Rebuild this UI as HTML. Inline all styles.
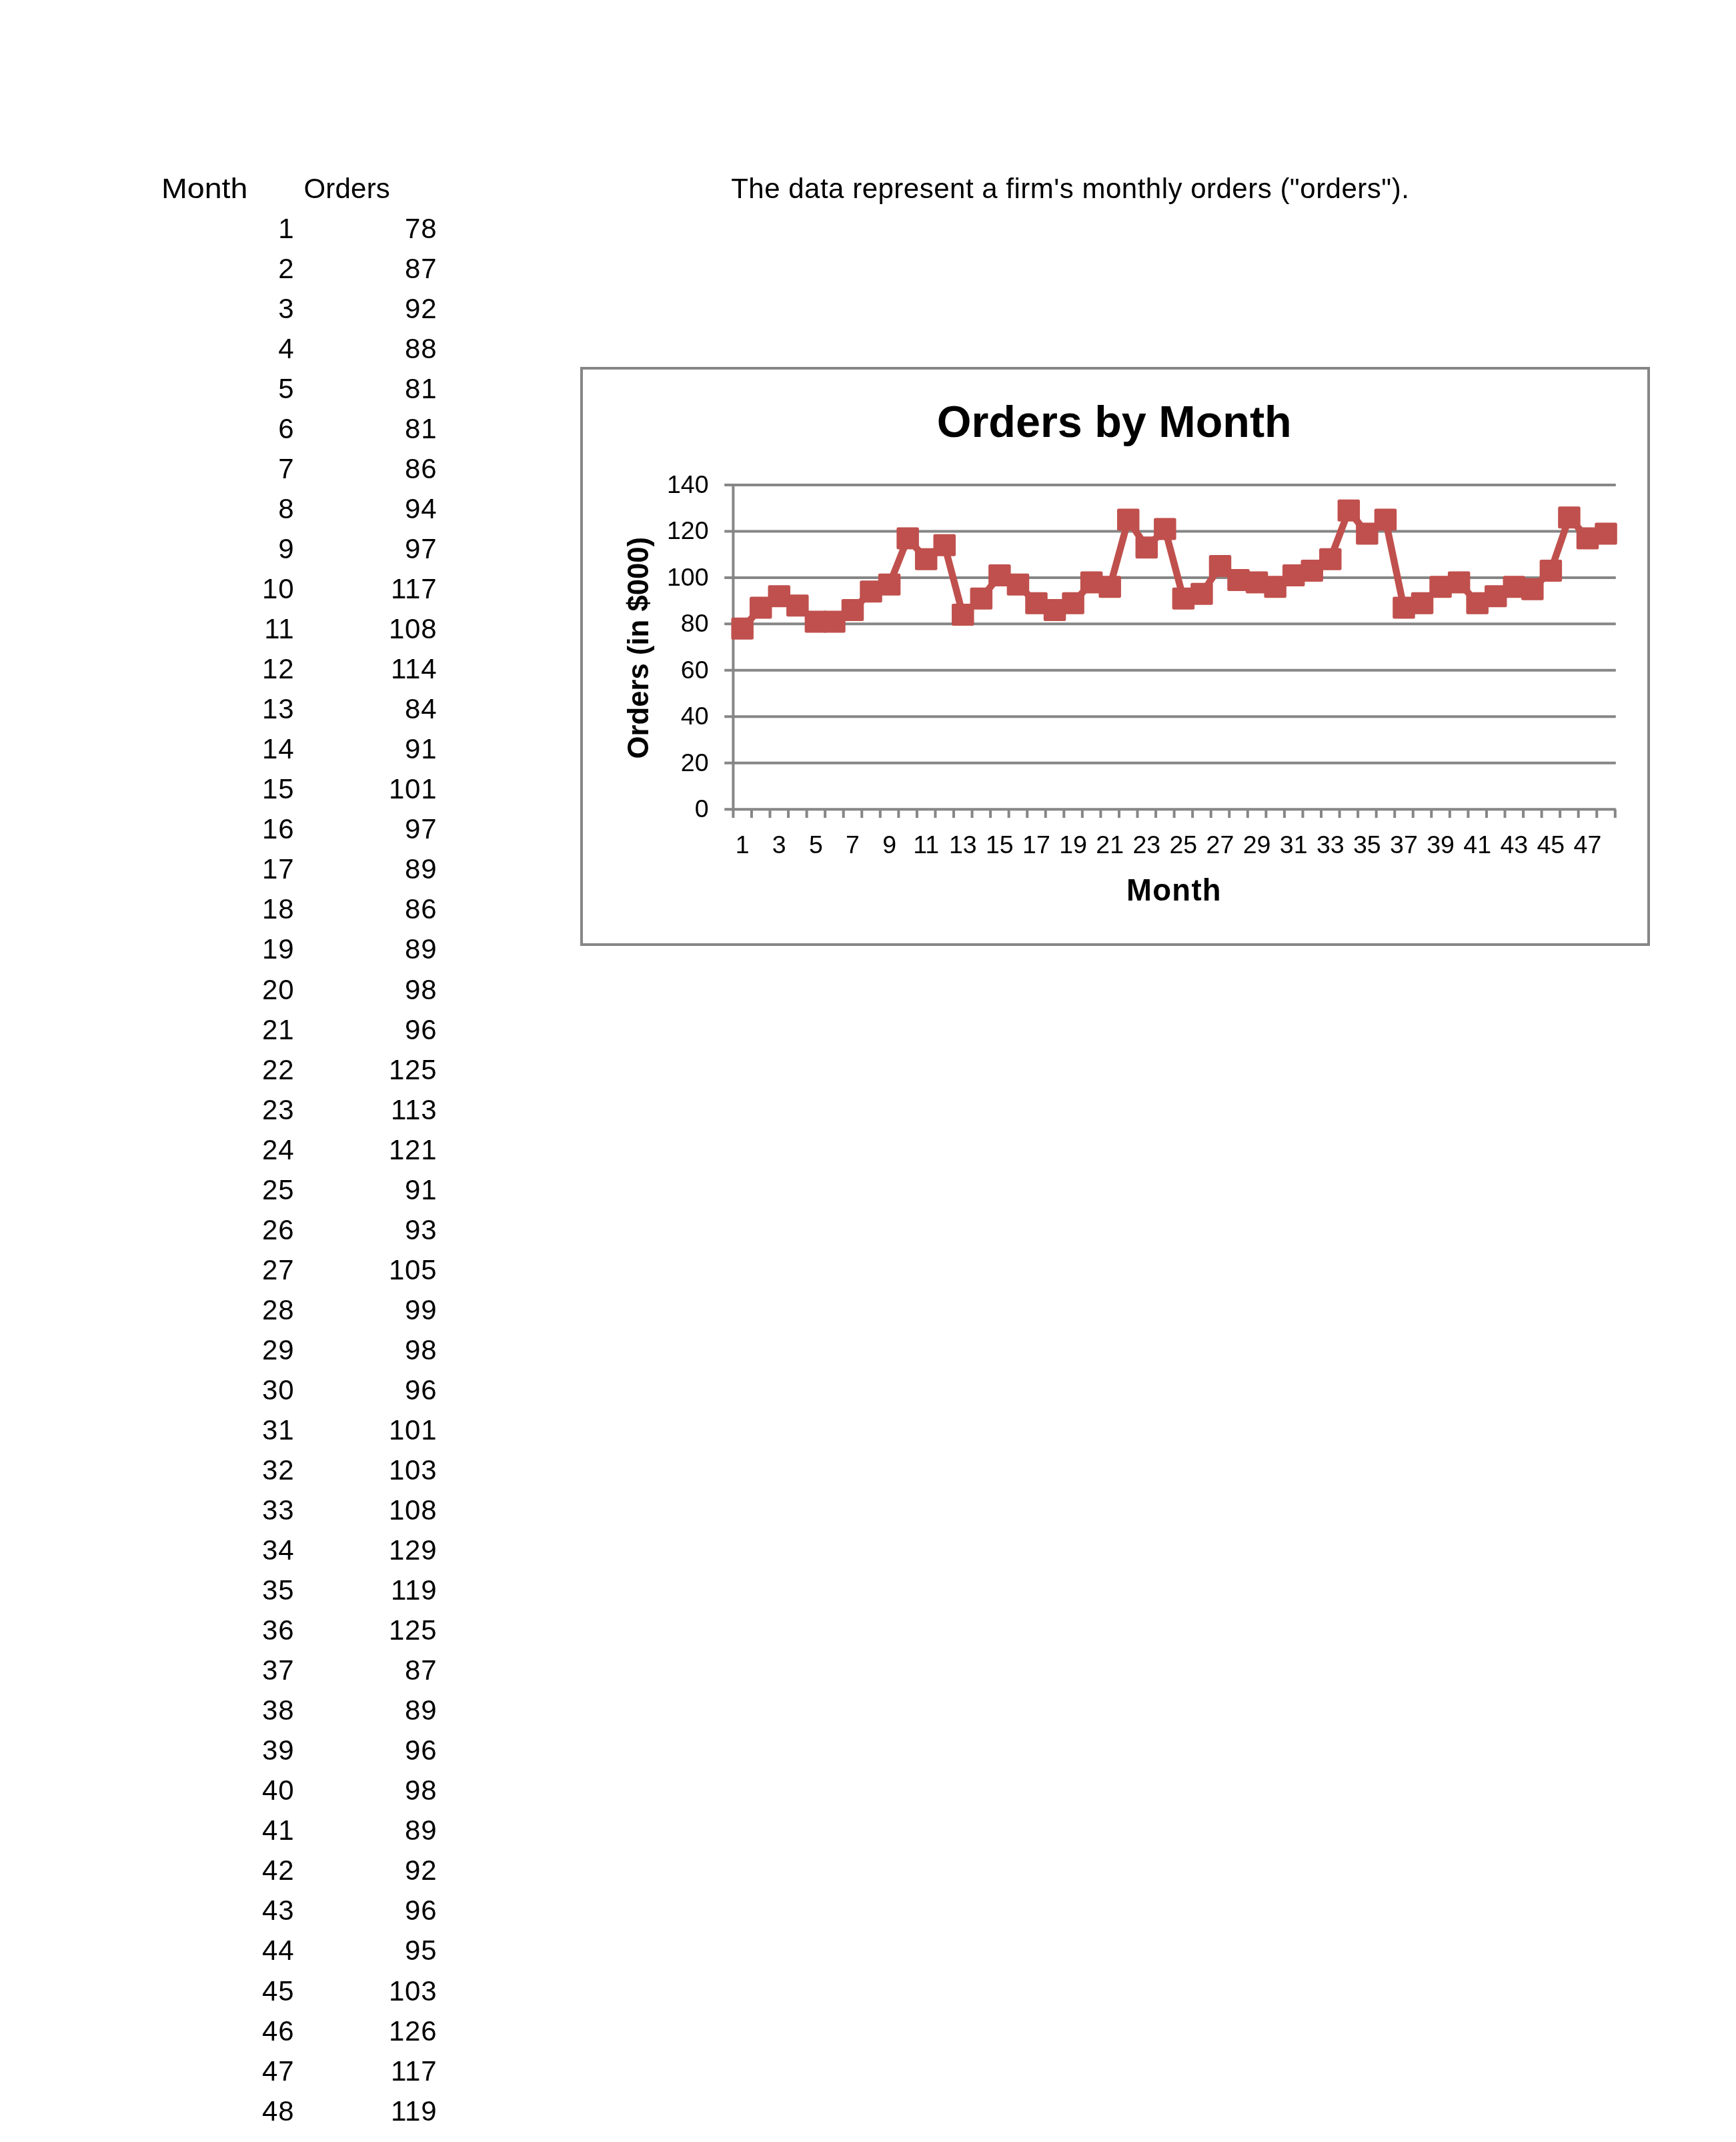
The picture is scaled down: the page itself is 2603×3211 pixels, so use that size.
<!DOCTYPE html>
<html lang="en">
<head>
<meta charset="utf-8">
<title>Orders by Month</title>
<style>

html,body{margin:0;padding:0;background:#fff;}
body{width:2603px;height:3211px;position:relative;overflow:hidden;font-family:"Liberation Sans",sans-serif;color:#000;}
.sheet{position:absolute;left:0;top:0;width:2603px;height:3211px;will-change:transform;}
.cell{position:absolute;white-space:nowrap;font-size:42px;line-height:60px;height:60px;}
.num{text-align:right;}
.desc{position:absolute;white-space:nowrap;font-size:42px;line-height:60px;}
svg{position:absolute;left:0;top:0;}
svg text{font-family:"Liberation Sans",sans-serif;fill:#000;}

</style>
</head>
<body>
<div class="sheet">
<div class="cell hd" style="left:241.60px;top:252.70px;width:198.90px;transform:scaleX(1.108);transform-origin:0 0;">Month</div>
<div class="cell hd" style="left:455.50px;top:252.70px;width:199.90px;letter-spacing:0.2px;">Orders</div>
<div class="desc" style="left:1096.20px;top:252.70px;letter-spacing:0.5px;">The data represent a firm's monthly orders ("orders").</div>
<div class="cell num" style="left:242.50px;top:312.74px;width:198.90px;letter-spacing:0.8px;">1</div><div class="cell num" style="left:455.50px;top:312.74px;width:199.90px;letter-spacing:0.8px;">78</div>
<div class="cell num" style="left:242.50px;top:372.78px;width:198.90px;letter-spacing:0.8px;">2</div><div class="cell num" style="left:455.50px;top:372.78px;width:199.90px;letter-spacing:0.8px;">87</div>
<div class="cell num" style="left:242.50px;top:432.82px;width:198.90px;letter-spacing:0.8px;">3</div><div class="cell num" style="left:455.50px;top:432.82px;width:199.90px;letter-spacing:0.8px;">92</div>
<div class="cell num" style="left:242.50px;top:492.86px;width:198.90px;letter-spacing:0.8px;">4</div><div class="cell num" style="left:455.50px;top:492.86px;width:199.90px;letter-spacing:0.8px;">88</div>
<div class="cell num" style="left:242.50px;top:552.90px;width:198.90px;letter-spacing:0.8px;">5</div><div class="cell num" style="left:455.50px;top:552.90px;width:199.90px;letter-spacing:0.8px;">81</div>
<div class="cell num" style="left:242.50px;top:612.94px;width:198.90px;letter-spacing:0.8px;">6</div><div class="cell num" style="left:455.50px;top:612.94px;width:199.90px;letter-spacing:0.8px;">81</div>
<div class="cell num" style="left:242.50px;top:672.98px;width:198.90px;letter-spacing:0.8px;">7</div><div class="cell num" style="left:455.50px;top:672.98px;width:199.90px;letter-spacing:0.8px;">86</div>
<div class="cell num" style="left:242.50px;top:733.02px;width:198.90px;letter-spacing:0.8px;">8</div><div class="cell num" style="left:455.50px;top:733.02px;width:199.90px;letter-spacing:0.8px;">94</div>
<div class="cell num" style="left:242.50px;top:793.06px;width:198.90px;letter-spacing:0.8px;">9</div><div class="cell num" style="left:455.50px;top:793.06px;width:199.90px;letter-spacing:0.8px;">97</div>
<div class="cell num" style="left:242.50px;top:853.10px;width:198.90px;letter-spacing:0.8px;">10</div><div class="cell num" style="left:455.50px;top:853.10px;width:199.90px;letter-spacing:0.8px;">117</div>
<div class="cell num" style="left:242.50px;top:913.14px;width:198.90px;letter-spacing:0.8px;">11</div><div class="cell num" style="left:455.50px;top:913.14px;width:199.90px;letter-spacing:0.8px;">108</div>
<div class="cell num" style="left:242.50px;top:973.18px;width:198.90px;letter-spacing:0.8px;">12</div><div class="cell num" style="left:455.50px;top:973.18px;width:199.90px;letter-spacing:0.8px;">114</div>
<div class="cell num" style="left:242.50px;top:1033.22px;width:198.90px;letter-spacing:0.8px;">13</div><div class="cell num" style="left:455.50px;top:1033.22px;width:199.90px;letter-spacing:0.8px;">84</div>
<div class="cell num" style="left:242.50px;top:1093.26px;width:198.90px;letter-spacing:0.8px;">14</div><div class="cell num" style="left:455.50px;top:1093.26px;width:199.90px;letter-spacing:0.8px;">91</div>
<div class="cell num" style="left:242.50px;top:1153.30px;width:198.90px;letter-spacing:0.8px;">15</div><div class="cell num" style="left:455.50px;top:1153.30px;width:199.90px;letter-spacing:0.8px;">101</div>
<div class="cell num" style="left:242.50px;top:1213.34px;width:198.90px;letter-spacing:0.8px;">16</div><div class="cell num" style="left:455.50px;top:1213.34px;width:199.90px;letter-spacing:0.8px;">97</div>
<div class="cell num" style="left:242.50px;top:1273.38px;width:198.90px;letter-spacing:0.8px;">17</div><div class="cell num" style="left:455.50px;top:1273.38px;width:199.90px;letter-spacing:0.8px;">89</div>
<div class="cell num" style="left:242.50px;top:1333.42px;width:198.90px;letter-spacing:0.8px;">18</div><div class="cell num" style="left:455.50px;top:1333.42px;width:199.90px;letter-spacing:0.8px;">86</div>
<div class="cell num" style="left:242.50px;top:1393.46px;width:198.90px;letter-spacing:0.8px;">19</div><div class="cell num" style="left:455.50px;top:1393.46px;width:199.90px;letter-spacing:0.8px;">89</div>
<div class="cell num" style="left:242.50px;top:1453.50px;width:198.90px;letter-spacing:0.8px;">20</div><div class="cell num" style="left:455.50px;top:1453.50px;width:199.90px;letter-spacing:0.8px;">98</div>
<div class="cell num" style="left:242.50px;top:1513.54px;width:198.90px;letter-spacing:0.8px;">21</div><div class="cell num" style="left:455.50px;top:1513.54px;width:199.90px;letter-spacing:0.8px;">96</div>
<div class="cell num" style="left:242.50px;top:1573.58px;width:198.90px;letter-spacing:0.8px;">22</div><div class="cell num" style="left:455.50px;top:1573.58px;width:199.90px;letter-spacing:0.8px;">125</div>
<div class="cell num" style="left:242.50px;top:1633.62px;width:198.90px;letter-spacing:0.8px;">23</div><div class="cell num" style="left:455.50px;top:1633.62px;width:199.90px;letter-spacing:0.8px;">113</div>
<div class="cell num" style="left:242.50px;top:1693.66px;width:198.90px;letter-spacing:0.8px;">24</div><div class="cell num" style="left:455.50px;top:1693.66px;width:199.90px;letter-spacing:0.8px;">121</div>
<div class="cell num" style="left:242.50px;top:1753.70px;width:198.90px;letter-spacing:0.8px;">25</div><div class="cell num" style="left:455.50px;top:1753.70px;width:199.90px;letter-spacing:0.8px;">91</div>
<div class="cell num" style="left:242.50px;top:1813.74px;width:198.90px;letter-spacing:0.8px;">26</div><div class="cell num" style="left:455.50px;top:1813.74px;width:199.90px;letter-spacing:0.8px;">93</div>
<div class="cell num" style="left:242.50px;top:1873.78px;width:198.90px;letter-spacing:0.8px;">27</div><div class="cell num" style="left:455.50px;top:1873.78px;width:199.90px;letter-spacing:0.8px;">105</div>
<div class="cell num" style="left:242.50px;top:1933.82px;width:198.90px;letter-spacing:0.8px;">28</div><div class="cell num" style="left:455.50px;top:1933.82px;width:199.90px;letter-spacing:0.8px;">99</div>
<div class="cell num" style="left:242.50px;top:1993.86px;width:198.90px;letter-spacing:0.8px;">29</div><div class="cell num" style="left:455.50px;top:1993.86px;width:199.90px;letter-spacing:0.8px;">98</div>
<div class="cell num" style="left:242.50px;top:2053.90px;width:198.90px;letter-spacing:0.8px;">30</div><div class="cell num" style="left:455.50px;top:2053.90px;width:199.90px;letter-spacing:0.8px;">96</div>
<div class="cell num" style="left:242.50px;top:2113.94px;width:198.90px;letter-spacing:0.8px;">31</div><div class="cell num" style="left:455.50px;top:2113.94px;width:199.90px;letter-spacing:0.8px;">101</div>
<div class="cell num" style="left:242.50px;top:2173.98px;width:198.90px;letter-spacing:0.8px;">32</div><div class="cell num" style="left:455.50px;top:2173.98px;width:199.90px;letter-spacing:0.8px;">103</div>
<div class="cell num" style="left:242.50px;top:2234.02px;width:198.90px;letter-spacing:0.8px;">33</div><div class="cell num" style="left:455.50px;top:2234.02px;width:199.90px;letter-spacing:0.8px;">108</div>
<div class="cell num" style="left:242.50px;top:2294.06px;width:198.90px;letter-spacing:0.8px;">34</div><div class="cell num" style="left:455.50px;top:2294.06px;width:199.90px;letter-spacing:0.8px;">129</div>
<div class="cell num" style="left:242.50px;top:2354.10px;width:198.90px;letter-spacing:0.8px;">35</div><div class="cell num" style="left:455.50px;top:2354.10px;width:199.90px;letter-spacing:0.8px;">119</div>
<div class="cell num" style="left:242.50px;top:2414.14px;width:198.90px;letter-spacing:0.8px;">36</div><div class="cell num" style="left:455.50px;top:2414.14px;width:199.90px;letter-spacing:0.8px;">125</div>
<div class="cell num" style="left:242.50px;top:2474.18px;width:198.90px;letter-spacing:0.8px;">37</div><div class="cell num" style="left:455.50px;top:2474.18px;width:199.90px;letter-spacing:0.8px;">87</div>
<div class="cell num" style="left:242.50px;top:2534.22px;width:198.90px;letter-spacing:0.8px;">38</div><div class="cell num" style="left:455.50px;top:2534.22px;width:199.90px;letter-spacing:0.8px;">89</div>
<div class="cell num" style="left:242.50px;top:2594.26px;width:198.90px;letter-spacing:0.8px;">39</div><div class="cell num" style="left:455.50px;top:2594.26px;width:199.90px;letter-spacing:0.8px;">96</div>
<div class="cell num" style="left:242.50px;top:2654.30px;width:198.90px;letter-spacing:0.8px;">40</div><div class="cell num" style="left:455.50px;top:2654.30px;width:199.90px;letter-spacing:0.8px;">98</div>
<div class="cell num" style="left:242.50px;top:2714.34px;width:198.90px;letter-spacing:0.8px;">41</div><div class="cell num" style="left:455.50px;top:2714.34px;width:199.90px;letter-spacing:0.8px;">89</div>
<div class="cell num" style="left:242.50px;top:2774.38px;width:198.90px;letter-spacing:0.8px;">42</div><div class="cell num" style="left:455.50px;top:2774.38px;width:199.90px;letter-spacing:0.8px;">92</div>
<div class="cell num" style="left:242.50px;top:2834.42px;width:198.90px;letter-spacing:0.8px;">43</div><div class="cell num" style="left:455.50px;top:2834.42px;width:199.90px;letter-spacing:0.8px;">96</div>
<div class="cell num" style="left:242.50px;top:2894.46px;width:198.90px;letter-spacing:0.8px;">44</div><div class="cell num" style="left:455.50px;top:2894.46px;width:199.90px;letter-spacing:0.8px;">95</div>
<div class="cell num" style="left:242.50px;top:2954.50px;width:198.90px;letter-spacing:0.8px;">45</div><div class="cell num" style="left:455.50px;top:2954.50px;width:199.90px;letter-spacing:0.8px;">103</div>
<div class="cell num" style="left:242.50px;top:3014.54px;width:198.90px;letter-spacing:0.8px;">46</div><div class="cell num" style="left:455.50px;top:3014.54px;width:199.90px;letter-spacing:0.8px;">126</div>
<div class="cell num" style="left:242.50px;top:3074.58px;width:198.90px;letter-spacing:0.8px;">47</div><div class="cell num" style="left:455.50px;top:3074.58px;width:199.90px;letter-spacing:0.8px;">117</div>
<div class="cell num" style="left:242.50px;top:3134.62px;width:198.90px;letter-spacing:0.8px;">48</div><div class="cell num" style="left:455.50px;top:3134.62px;width:199.90px;letter-spacing:0.8px;">119</div>
<svg width="2603" height="3211" viewBox="0 0 2603 3211">
<rect x="872" y="552" width="1600" height="864" fill="#fff" stroke="#868686" stroke-width="4"/>
<line x1="1086.2" y1="1213.20" x2="2422.80" y2="1213.20" stroke="#868686" stroke-width="4.0"/>
<line x1="1086.2" y1="1143.74" x2="2422.80" y2="1143.74" stroke="#868686" stroke-width="4.0"/>
<line x1="1086.2" y1="1074.28" x2="2422.80" y2="1074.28" stroke="#868686" stroke-width="4.0"/>
<line x1="1086.2" y1="1004.82" x2="2422.80" y2="1004.82" stroke="#868686" stroke-width="4.0"/>
<line x1="1086.2" y1="935.36" x2="2422.80" y2="935.36" stroke="#868686" stroke-width="4.0"/>
<line x1="1086.2" y1="865.90" x2="2422.80" y2="865.90" stroke="#868686" stroke-width="4.0"/>
<line x1="1086.2" y1="796.44" x2="2422.80" y2="796.44" stroke="#868686" stroke-width="4.0"/>
<line x1="1086.2" y1="726.98" x2="2422.80" y2="726.98" stroke="#868686" stroke-width="4.0"/>
<line x1="1099.40" y1="724.98" x2="1099.40" y2="1225.90" stroke="#868686" stroke-width="4.0"/>
<path d="M1126.95 1213.20V1225.90M1154.50 1213.20V1225.90M1182.05 1213.20V1225.90M1209.60 1213.20V1225.90M1237.15 1213.20V1225.90M1264.70 1213.20V1225.90M1292.25 1213.20V1225.90M1319.80 1213.20V1225.90M1347.35 1213.20V1225.90M1374.90 1213.20V1225.90M1402.45 1213.20V1225.90M1430.00 1213.20V1225.90M1457.55 1213.20V1225.90M1485.10 1213.20V1225.90M1512.65 1213.20V1225.90M1540.20 1213.20V1225.90M1567.75 1213.20V1225.90M1595.30 1213.20V1225.90M1622.85 1213.20V1225.90M1650.40 1213.20V1225.90M1677.95 1213.20V1225.90M1705.50 1213.20V1225.90M1733.05 1213.20V1225.90M1760.60 1213.20V1225.90M1788.15 1213.20V1225.90M1815.70 1213.20V1225.90M1843.25 1213.20V1225.90M1870.80 1213.20V1225.90M1898.35 1213.20V1225.90M1925.90 1213.20V1225.90M1953.45 1213.20V1225.90M1981.00 1213.20V1225.90M2008.55 1213.20V1225.90M2036.10 1213.20V1225.90M2063.65 1213.20V1225.90M2091.20 1213.20V1225.90M2118.75 1213.20V1225.90M2146.30 1213.20V1225.90M2173.85 1213.20V1225.90M2201.40 1213.20V1225.90M2228.95 1213.20V1225.90M2256.50 1213.20V1225.90M2284.05 1213.20V1225.90M2311.60 1213.20V1225.90M2339.15 1213.20V1225.90M2366.70 1213.20V1225.90M2394.25 1213.20V1225.90M2421.80 1213.20V1225.90" stroke="#868686" stroke-width="4.0" fill="none"/>
<text x="1062.5" y="1225.00" font-size="37.5" text-anchor="end">0</text>
<text x="1062.5" y="1155.54" font-size="37.5" text-anchor="end">20</text>
<text x="1062.5" y="1086.08" font-size="37.5" text-anchor="end">40</text>
<text x="1062.5" y="1016.62" font-size="37.5" text-anchor="end">60</text>
<text x="1062.5" y="947.16" font-size="37.5" text-anchor="end">80</text>
<text x="1062.5" y="877.70" font-size="37.5" text-anchor="end">100</text>
<text x="1062.5" y="808.24" font-size="37.5" text-anchor="end">120</text>
<text x="1062.5" y="738.78" font-size="37.5" text-anchor="end">140</text>
<text x="1113.18" y="1278.9" font-size="37.5" text-anchor="middle">1</text>
<text x="1168.28" y="1278.9" font-size="37.5" text-anchor="middle">3</text>
<text x="1223.38" y="1278.9" font-size="37.5" text-anchor="middle">5</text>
<text x="1278.48" y="1278.9" font-size="37.5" text-anchor="middle">7</text>
<text x="1333.58" y="1278.9" font-size="37.5" text-anchor="middle">9</text>
<text x="1388.68" y="1278.9" font-size="37.5" text-anchor="middle">11</text>
<text x="1443.78" y="1278.9" font-size="37.5" text-anchor="middle">13</text>
<text x="1498.88" y="1278.9" font-size="37.5" text-anchor="middle">15</text>
<text x="1553.98" y="1278.9" font-size="37.5" text-anchor="middle">17</text>
<text x="1609.08" y="1278.9" font-size="37.5" text-anchor="middle">19</text>
<text x="1664.18" y="1278.9" font-size="37.5" text-anchor="middle">21</text>
<text x="1719.28" y="1278.9" font-size="37.5" text-anchor="middle">23</text>
<text x="1774.38" y="1278.9" font-size="37.5" text-anchor="middle">25</text>
<text x="1829.48" y="1278.9" font-size="37.5" text-anchor="middle">27</text>
<text x="1884.58" y="1278.9" font-size="37.5" text-anchor="middle">29</text>
<text x="1939.68" y="1278.9" font-size="37.5" text-anchor="middle">31</text>
<text x="1994.78" y="1278.9" font-size="37.5" text-anchor="middle">33</text>
<text x="2049.88" y="1278.9" font-size="37.5" text-anchor="middle">35</text>
<text x="2104.98" y="1278.9" font-size="37.5" text-anchor="middle">37</text>
<text x="2160.07" y="1278.9" font-size="37.5" text-anchor="middle">39</text>
<text x="2215.18" y="1278.9" font-size="37.5" text-anchor="middle">41</text>
<text x="2270.28" y="1278.9" font-size="37.5" text-anchor="middle">43</text>
<text x="2325.38" y="1278.9" font-size="37.5" text-anchor="middle">45</text>
<text x="2380.48" y="1278.9" font-size="37.5" text-anchor="middle">47</text>
<polyline points="1113.18,942.31 1140.73,911.05 1168.28,893.68 1195.83,907.58 1223.38,931.89 1250.93,931.89 1278.48,914.52 1306.03,886.74 1333.58,876.32 1361.12,806.86 1388.68,838.12 1416.23,817.28 1443.78,921.47 1471.33,897.16 1498.88,862.43 1526.43,876.32 1553.98,904.10 1581.53,914.52 1609.08,904.10 1636.62,872.85 1664.18,879.79 1691.73,779.08 1719.28,820.75 1746.83,792.97 1774.38,897.16 1801.93,890.21 1829.48,848.54 1857.03,869.37 1884.58,872.85 1912.12,879.79 1939.68,862.43 1967.23,855.48 1994.78,838.12 2022.33,765.18 2049.88,799.91 2077.43,779.08 2104.98,911.05 2132.53,904.10 2160.07,879.79 2187.62,872.85 2215.18,904.10 2242.73,893.68 2270.28,879.79 2297.82,883.27 2325.38,855.48 2352.93,775.60 2380.48,806.86 2408.03,799.91" fill="none" stroke="#C0504D" stroke-width="10.4" stroke-linejoin="round" stroke-linecap="round"/>
<rect x="1096.43" y="925.86" width="33.5" height="33.0" rx="2.5" fill="#C0504D"/>
<rect x="1123.98" y="894.60" width="33.5" height="33.0" rx="2.5" fill="#C0504D"/>
<rect x="1151.53" y="877.23" width="33.5" height="33.0" rx="2.5" fill="#C0504D"/>
<rect x="1179.08" y="891.13" width="33.5" height="33.0" rx="2.5" fill="#C0504D"/>
<rect x="1206.62" y="915.44" width="33.5" height="33.0" rx="2.5" fill="#C0504D"/>
<rect x="1234.18" y="915.44" width="33.5" height="33.0" rx="2.5" fill="#C0504D"/>
<rect x="1261.73" y="898.07" width="33.5" height="33.0" rx="2.5" fill="#C0504D"/>
<rect x="1289.28" y="870.29" width="33.5" height="33.0" rx="2.5" fill="#C0504D"/>
<rect x="1316.83" y="859.87" width="33.5" height="33.0" rx="2.5" fill="#C0504D"/>
<rect x="1344.38" y="790.41" width="33.5" height="33.0" rx="2.5" fill="#C0504D"/>
<rect x="1371.93" y="821.67" width="33.5" height="33.0" rx="2.5" fill="#C0504D"/>
<rect x="1399.48" y="800.83" width="33.5" height="33.0" rx="2.5" fill="#C0504D"/>
<rect x="1427.03" y="905.02" width="33.5" height="33.0" rx="2.5" fill="#C0504D"/>
<rect x="1454.58" y="880.71" width="33.5" height="33.0" rx="2.5" fill="#C0504D"/>
<rect x="1482.12" y="845.98" width="33.5" height="33.0" rx="2.5" fill="#C0504D"/>
<rect x="1509.68" y="859.87" width="33.5" height="33.0" rx="2.5" fill="#C0504D"/>
<rect x="1537.23" y="887.65" width="33.5" height="33.0" rx="2.5" fill="#C0504D"/>
<rect x="1564.78" y="898.07" width="33.5" height="33.0" rx="2.5" fill="#C0504D"/>
<rect x="1592.33" y="887.65" width="33.5" height="33.0" rx="2.5" fill="#C0504D"/>
<rect x="1619.88" y="856.40" width="33.5" height="33.0" rx="2.5" fill="#C0504D"/>
<rect x="1647.43" y="863.34" width="33.5" height="33.0" rx="2.5" fill="#C0504D"/>
<rect x="1674.98" y="762.62" width="33.5" height="33.0" rx="2.5" fill="#C0504D"/>
<rect x="1702.53" y="804.30" width="33.5" height="33.0" rx="2.5" fill="#C0504D"/>
<rect x="1730.08" y="776.52" width="33.5" height="33.0" rx="2.5" fill="#C0504D"/>
<rect x="1757.62" y="880.71" width="33.5" height="33.0" rx="2.5" fill="#C0504D"/>
<rect x="1785.18" y="873.76" width="33.5" height="33.0" rx="2.5" fill="#C0504D"/>
<rect x="1812.73" y="832.09" width="33.5" height="33.0" rx="2.5" fill="#C0504D"/>
<rect x="1840.28" y="852.92" width="33.5" height="33.0" rx="2.5" fill="#C0504D"/>
<rect x="1867.83" y="856.40" width="33.5" height="33.0" rx="2.5" fill="#C0504D"/>
<rect x="1895.38" y="863.34" width="33.5" height="33.0" rx="2.5" fill="#C0504D"/>
<rect x="1922.93" y="845.98" width="33.5" height="33.0" rx="2.5" fill="#C0504D"/>
<rect x="1950.48" y="839.03" width="33.5" height="33.0" rx="2.5" fill="#C0504D"/>
<rect x="1978.03" y="821.67" width="33.5" height="33.0" rx="2.5" fill="#C0504D"/>
<rect x="2005.58" y="748.73" width="33.5" height="33.0" rx="2.5" fill="#C0504D"/>
<rect x="2033.12" y="783.46" width="33.5" height="33.0" rx="2.5" fill="#C0504D"/>
<rect x="2060.68" y="762.62" width="33.5" height="33.0" rx="2.5" fill="#C0504D"/>
<rect x="2088.23" y="894.60" width="33.5" height="33.0" rx="2.5" fill="#C0504D"/>
<rect x="2115.78" y="887.65" width="33.5" height="33.0" rx="2.5" fill="#C0504D"/>
<rect x="2143.32" y="863.34" width="33.5" height="33.0" rx="2.5" fill="#C0504D"/>
<rect x="2170.88" y="856.40" width="33.5" height="33.0" rx="2.5" fill="#C0504D"/>
<rect x="2198.43" y="887.65" width="33.5" height="33.0" rx="2.5" fill="#C0504D"/>
<rect x="2225.98" y="877.23" width="33.5" height="33.0" rx="2.5" fill="#C0504D"/>
<rect x="2253.53" y="863.34" width="33.5" height="33.0" rx="2.5" fill="#C0504D"/>
<rect x="2281.07" y="866.82" width="33.5" height="33.0" rx="2.5" fill="#C0504D"/>
<rect x="2308.62" y="839.03" width="33.5" height="33.0" rx="2.5" fill="#C0504D"/>
<rect x="2336.18" y="759.15" width="33.5" height="33.0" rx="2.5" fill="#C0504D"/>
<rect x="2363.73" y="790.41" width="33.5" height="33.0" rx="2.5" fill="#C0504D"/>
<rect x="2391.28" y="783.46" width="33.5" height="33.0" rx="2.5" fill="#C0504D"/>
<text x="1670.7" y="654.7" font-size="66.5" font-weight="bold" text-anchor="middle">Orders by Month</text>
<text x="1760.5" y="1349.9" font-size="45.5" font-weight="bold" text-anchor="middle" letter-spacing="1.3">Month</text>
<text transform="translate(972.4 971.2) rotate(-90)" font-size="43.7" font-weight="bold" text-anchor="middle">Orders (in $000)</text>
</svg>
</div>
</body>
</html>
